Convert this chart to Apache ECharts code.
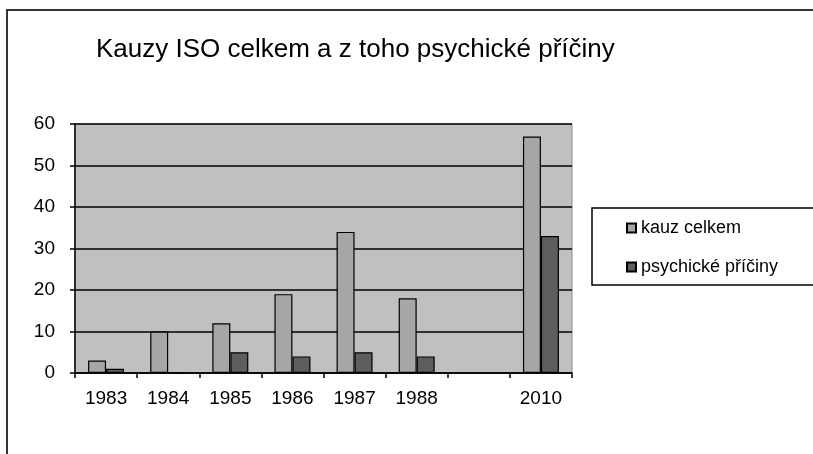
<!DOCTYPE html>
<html>
<head>
<meta charset="utf-8">
<script src="https://cdn.jsdelivr.net/npm/echarts@6/dist/echarts.min.js"></script>
<style>html,body{margin:0;padding:0;background:#fff;}#c{width:813px;height:454px;}</style>
</head>
<body>
<div id="c"></div>
<script>
const categories = ['1983', '1984', '1985', '1986', '1987', '1988', '', '2010'];
const kauzCelkem = [3, 10, 12, 19, 34, 18, null, 57];
const psychicke = [1, 0, 5, 4, 5, 4, null, 33];
const yTicks = { min: 0, max: 60, interval: 10 };
const seriesNames = ['kauz celkem', 'psychické příčiny'];

const font = 'Arial, "Liberation Sans", sans-serif';
const chart = echarts.init(document.getElementById('c'), null, { renderer: 'canvas' });
chart.setOption({
  animation: false,
  backgroundColor: '#fff',
  title: {
    text: 'Kauzy ISO celkem a z toho psychické příčiny',
    left: 91, top: 32,
    textStyle: { fontFamily: font, fontSize: 26, fontWeight: 'normal', color: '#000' }
  },
  legend: {
    orient: 'vertical',
    left: 592, top: 208,
    padding: [10, 60, 8, 34],
    itemGap: 19,
    itemWidth: 9, itemHeight: 9,
    itemTextGap: 5,
    icon: 'rect',
    borderColor: '#000', borderWidth: 1.5,
    backgroundColor: '#fff',
    textStyle: { fontFamily: font, fontSize: 18, color: '#000', lineHeight: 20 },
    data: seriesNames
  },
  grid: {
    left: 75, right: 241, top: 124, bottom: 81,
    show: true, backgroundColor: '#c0c0c0', borderColor: '#8a8a8a', borderWidth: 1
  },
  xAxis: {
    type: 'category', data: categories,
    axisLine: { lineStyle: { color: '#000', width: 1.5 } },
    axisTick: { show: true, length: 5, lineStyle: { color: '#000', width: 1.5 } },
    axisLabel: { fontFamily: font, fontSize: 19, color: '#000', margin: 16 }
  },
  yAxis: {
    type: 'value', min: yTicks.min, max: yTicks.max, interval: yTicks.interval,
    axisLine: { show: true, lineStyle: { color: '#000', width: 1.5 } },
    axisTick: { show: true, length: 5, lineStyle: { color: '#000', width: 1.5 } },
    axisLabel: { fontFamily: font, fontSize: 19, color: '#000', margin: 20 },
    splitLine: { lineStyle: { color: '#000', width: 1.5 } }
  },
  series: [
    { name: seriesNames[0], type: 'bar', data: kauzCelkem, barWidth: 18, barGap: '0%',
      itemStyle: { color: '#a6a6a6', borderColor: '#000', borderWidth: 1.2 } },
    { name: seriesNames[1], type: 'bar', data: psychicke, barWidth: 18, barGap: '0%',
      itemStyle: { color: '#5e5e5e', borderColor: '#000', borderWidth: 1.2 } }
  ],
  graphic: [{
    type: 'rect', z: 100, silent: true,
    shape: { x: 7, y: 10, width: 900, height: 600 },
    style: { fill: 'none', stroke: '#333', lineWidth: 2 }
  }]
});
</script>
</body>
</html>
